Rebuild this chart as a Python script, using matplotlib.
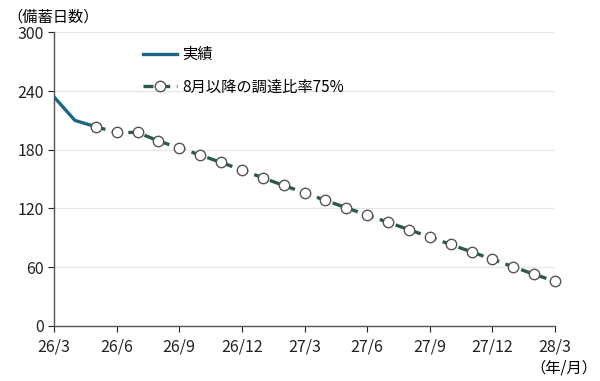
import matplotlib
matplotlib.use("Agg")
import matplotlib.pyplot as plt

plt.rcParams['font.family'] = ['Noto Sans CJK JP', 'DejaVu Sans']

# months counted from 26/3 (index 0) to 28/3 (index 24)
actual_idx = [0, 1, 2]
actual_val = [234, 210, 203.5]

plan_idx = list(range(2, 25))
plan_val = [203.5, 197.7, 197.7, 189, 181.8, 174.6, 167, 159.4, 151.3, 143.5,
            136, 128.2, 120.7, 113.2, 105.8, 98.3, 90.8, 83.1, 75.6, 67.9,
            60.3, 52.6, 45.5]

tick_idx = [0, 3, 6, 9, 12, 15, 18, 21, 24]
tick_lab = ['26/3', '26/6', '26/9', '26/12', '27/3', '27/6', '27/9', '27/12', '28/3']

fig = plt.figure(figsize=(6, 3.81), dpi=100)
ax = fig.add_axes([0.09, 0.145, 0.835, 0.77])

ax.plot(actual_idx, actual_val, color='#1e6585', lw=2.4, label='実績', zorder=3)
ax.plot(plan_idx, plan_val, color='#2b5a4c', lw=2.4, ls=(0, (3, 2)),
        marker='o', ms=7.5, mfc='white', mec='#555555', mew=1.0,
        label='8月以降の調達比率75%', zorder=4, clip_on=False)

ax.set_xlim(0, 24)
ax.set_ylim(0, 300)
ax.set_yticks(range(0, 301, 60))
ax.set_xticks(tick_idx)
ax.set_xticklabels(tick_lab)
ax.tick_params(labelsize=11.5, colors='#222222', length=4, width=0.8)
ax.tick_params(axis='x', pad=5)
ax.yaxis.grid(True, color='#e6e6e6', lw=0.9)
ax.set_axisbelow(True)
for s in ['top', 'right']:
    ax.spines[s].set_visible(False)
for s in ['left', 'bottom']:
    ax.spines[s].set_color('#555555')
    ax.spines[s].set_linewidth(1.0)

ax.legend(loc='upper left', bbox_to_anchor=(0.15, 1.0), frameon=False,
          fontsize=11, handlelength=2.2, labelspacing=1.0, handletextpad=0.4)

fig.text(0.012, 0.955, '（備蓄日数）', fontsize=11, ha='left', va='center')
fig.text(0.995, 0.035, '（年/月）', fontsize=11, ha='right', va='center')

fig.savefig('out.png', dpi=100)
